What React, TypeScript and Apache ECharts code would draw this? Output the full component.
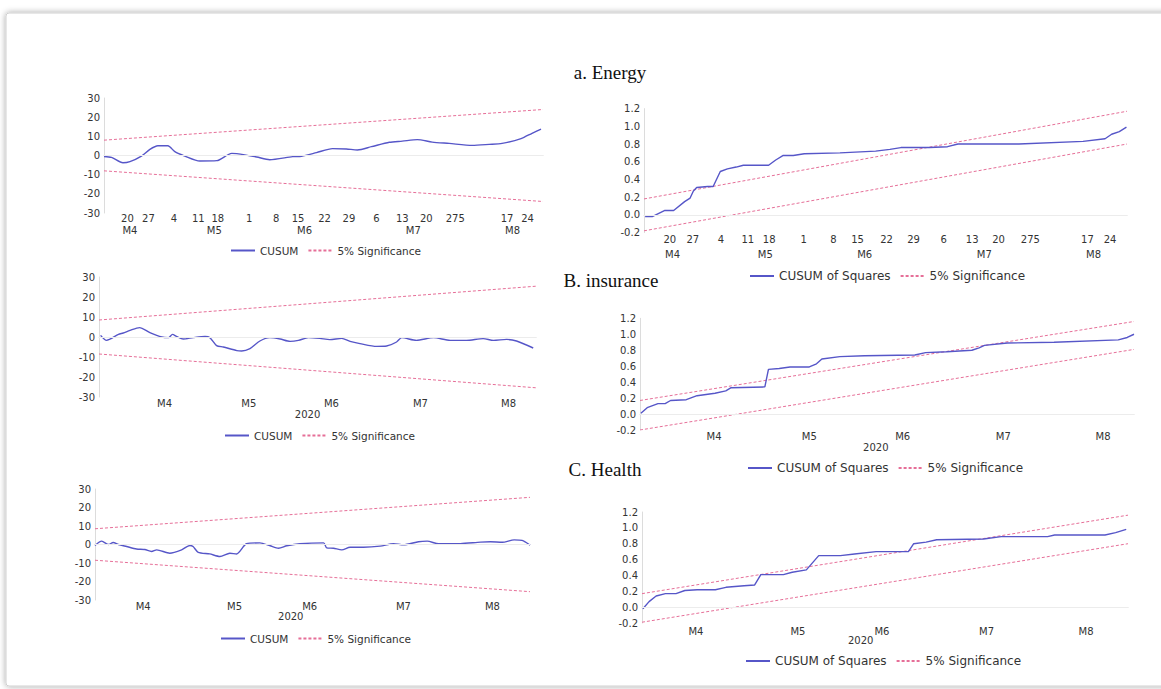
import React, { useEffect, useRef } from 'react';
import * as echarts from 'echarts';

// ---------- data ----------
const monthLabels = ['M4', 'M5', 'M6', 'M7', 'M8'];
const yearLabels = ['2020'];

// x positions are trading-day indexes
const energyDayPos = [4.7, 8.9, 14, 18.9, 22.8, 29.1, 34.5, 38.9, 44.2, 49.1, 54.6, 59.8, 64.6, 70.4, 80.8, 84.9];
const energyDayLabels = ['20', '27', '4', '11', '18', '1', '8', '15', '22', '29', '6', '13', '20', '275', '17', '24'];
const energyMonthPos = [5.2, 22.1, 40.2, 62, 81.9];
const insuranceMonthPos = [16.5, 37.7, 58.5, 80.9, 103.1];
const insuranceYearPos = [52.5];
const healthMonthPos = [12.2, 35.3, 54.3, 78, 100.5];
const healthYearPos = [49.5];

const energyCusum = [
  [0, -0.5], [1.5, -1], [3.8, -3.8], [5.2, -3.2], [7.5, -0.3], [9.2, 3.2], [10.8, 5.1], [12.8, 5.1],
  [14.2, 2], [16.2, -0.3], [19.2, -2.9], [22.6, -2.7], [25.6, 1.1], [26.6, 1], [30.6, -0.8], [33.2, -2.2],
  [37.8, -0.6], [39.6, -0.4], [42.6, 1.5], [45.8, 3.6], [48.6, 3.4], [50.8, 2.9], [53.6, 4.6], [57.2, 6.9],
  [59.8, 7.5], [62.8, 8.3], [65.8, 7], [69.2, 6.3], [73.8, 5.3], [77.2, 5.8], [79.8, 6.3], [83.6, 8.8],
  [85.8, 11.6], [87.6, 13.8],
];
const energyCusumUpper = [[0, 8], [88, 24]];
const energyCusumLower = [[0, -8], [88, -24]];

const energySq = [
  [0.2, -0.02], [1.5, -0.02], [3.8, 0.05], [5.4, 0.05], [7.4, 0.15], [8.4, 0.19], [9, 0.27], [9.6, 0.31],
  [11.6, 0.32], [12.6, 0.32], [13.9, 0.49], [15.2, 0.52], [16.8, 0.54], [18.1, 0.56], [22.7, 0.56], [24, 0.62],
  [25.3, 0.67], [27.2, 0.67], [29.2, 0.69], [35.7, 0.7], [42.2, 0.72], [44.8, 0.74], [46.8, 0.76], [52, 0.76],
  [55.3, 0.77], [57.2, 0.8], [68.3, 0.8], [80, 0.83], [84, 0.86], [85.2, 0.91], [86.6, 0.94], [87.9, 0.99],
];
const energySqUpper = [[0, 0.18], [88, 1.17]];
const energySqLower = [[0, -0.18], [88, 0.8]];

const insuranceCusum = [
  [0.4, 0.8], [1.9, -1.7], [4.9, 1.3], [6.1, 2], [7.8, 3.3], [10.2, 4.7], [12.8, 2.2], [15.8, 0],
  [17.5, -0.3], [18.5, 1.3], [19.5, 0.3], [21.2, -1], [23.7, -0.3], [26.7, 0.3], [27.9, -0.3], [29.6, -4.3],
  [31.3, -5], [34.7, -6.8], [35.9, -7], [38, -5.8], [40.5, -2], [43, -0.3], [45.6, -1], [48.1, -2.2],
  [50.2, -1.7], [52.7, -0.3], [55.6, -0.7], [58.1, -1.3], [61.1, -0.7], [63.2, -2.2], [65.7, -3.3], [69.9, -4.7],
  [72.4, -4.5], [74.9, -2.5], [76.2, -0.3], [79.9, -1.7], [84.2, -0.3], [88.4, -1.7], [92.5, -1.7], [96.7, -0.8],
  [99.3, -1.7], [102.6, -1.2], [105.1, -2], [109.3, -5.5],
];
const insuranceCusumUpper = [[0, 8.5], [110, 25.4]];
const insuranceCusumLower = [[0, -8.5], [110, -25.4]];

const insuranceSq = [
  [0.2, 0.01], [1.6, 0.08], [4, 0.13], [5.6, 0.13], [6.8, 0.17], [10.3, 0.18], [12.7, 0.23], [16.7, 0.26],
  [19.1, 0.29], [20.3, 0.33], [27.8, 0.34], [28.6, 0.56], [31, 0.57], [33.4, 0.59], [37.7, 0.59], [39.3, 0.63],
  [40.5, 0.69], [44.5, 0.72], [50, 0.73], [61.2, 0.74], [63.6, 0.77], [68.3, 0.78], [73.9, 0.8], [75.5, 0.83],
  [76.7, 0.86], [81.8, 0.89], [92.2, 0.9], [106.5, 0.93], [108.5, 0.96], [110, 1.0],
];
const insuranceSqUpper = [[0, 0.17], [110, 1.16]];
const insuranceSqLower = [[0, -0.2], [110, 0.81]];

const healthCusum = [
  [0, -0.5], [1.7, 1.8], [3.4, 0], [4.6, 1.1], [5.9, 0], [8, -1.1], [10.5, -2.4], [12.6, -2.7],
  [14.3, -3.8], [15.6, -2.9], [18.9, -4.7], [21.9, -2.9], [24, -0.5], [24.8, -1.1], [26.1, -4.2], [29, -5.1],
  [31.6, -6.5], [34.1, -4.7], [35.8, -5.1], [38.3, 0.4], [41.7, 0.9], [44.3, -0.7], [46.4, -2], [48.5, -0.7],
  [51.8, 0.4], [57.8, 0.9], [58.6, -1.8], [60.3, -2], [62.4, -2.9], [64.5, -1.5], [67.9, -1.5], [72.1, -0.9],
  [75.5, 0.4], [78, -0.2], [81.8, 1.5], [84, 1.8], [86.9, 0.4], [92.4, 0.5], [97.5, 1.3], [100, 1.5],
  [103, 1.2], [106, 2.5], [108, 2.2], [110, -0.3],
];
const healthCusumUpper = [[0, 8.5], [110, 25.5]];
const healthCusumLower = [[0, -8.5], [110, -25.5]];

const healthSq = [
  [0.2, -0.02], [1.6, 0.07], [3.2, 0.14], [5.3, 0.17], [7.7, 0.17], [9.7, 0.21], [12.5, 0.22], [16.6, 0.22],
  [19, 0.25], [23.1, 0.27], [25.5, 0.28], [26.9, 0.41], [32, 0.41], [34, 0.44], [37.2, 0.47], [40, 0.65],
  [44.9, 0.65], [48.1, 0.67], [53, 0.7], [60.3, 0.7], [61.5, 0.8], [64.3, 0.82], [66.7, 0.85], [77.3, 0.86],
  [81.3, 0.89], [91.8, 0.89], [93.4, 0.91], [104.8, 0.91], [107.2, 0.94], [109.6, 0.98],
];
const healthSqUpper = [[0, 0.17], [110, 1.16]];
const healthSqLower = [[0, -0.19], [110, 0.8]];

const titles = ['a. Energy', 'B. insurance', 'C. Health'];

// ---------- styles / layout ----------
const FONT = 'DejaVu Sans';
const lineColor = '#5656c8';
const sigColor = '#e66f98';
const axisColor = '#dcdcdc';
const textColor = '#333';

type Panel = {
  grid: { left: number; top: number; width: number; height: number };
  sq: boolean;
  xMax: number;
  main: number[][];
  upper: number[][];
  lower: number[][];
  name: string;
  row1: { pos: number[]; labels: string[]; margin: number };
  row2: { pos: number[]; labels: string[]; offset: number; margin: number };
  legend: { left: number; top: number; fontSize: number };
};

const panels: Panel[] = [
  {
    grid: { left: 104, top: 98, width: 439, height: 115 }, sq: false, xMax: 88,
    main: energyCusum, upper: energyCusumUpper, lower: energyCusumLower, name: 'CUSUM',
    row1: { pos: energyDayPos, labels: energyDayLabels, margin: 0.5 },
    row2: { pos: energyMonthPos, labels: monthLabels, offset: 12, margin: 0.5 },
    legend: { left: 225, top: 240, fontSize: 10.5 },
  },
  {
    grid: { left: 644, top: 108.6, width: 483, height: 124 }, sq: true, xMax: 88,
    main: energySq, upper: energySqUpper, lower: energySqLower, name: 'CUSUM of Squares',
    row1: { pos: energyDayPos, labels: energyDayLabels, margin: 2 },
    row2: { pos: energyMonthPos, labels: monthLabels, offset: 14.5, margin: 2 },
    legend: { left: 744, top: 265, fontSize: 12 },
  },
  {
    grid: { left: 99, top: 277, width: 437, height: 120 }, sq: false, xMax: 110,
    main: insuranceCusum, upper: insuranceCusumUpper, lower: insuranceCusumLower, name: 'CUSUM',
    row1: { pos: insuranceMonthPos, labels: monthLabels, margin: 1 },
    row2: { pos: insuranceYearPos, labels: yearLabels, offset: 11, margin: 1 },
    legend: { left: 219, top: 425, fontSize: 10.5 },
  },
  {
    grid: { left: 640, top: 318.3, width: 494, height: 111.7 }, sq: true, xMax: 110,
    main: insuranceSq, upper: insuranceSqUpper, lower: insuranceSqLower, name: 'CUSUM of Squares',
    row1: { pos: insuranceMonthPos, labels: monthLabels, margin: 1.5 },
    row2: { pos: insuranceYearPos, labels: yearLabels, offset: 10.5, margin: 1.5 },
    legend: { left: 742, top: 457, fontSize: 12 },
  },
  {
    grid: { left: 95, top: 489, width: 435, height: 111 }, sq: false, xMax: 110,
    main: healthCusum, upper: healthCusumUpper, lower: healthCusumLower, name: 'CUSUM',
    row1: { pos: healthMonthPos, labels: monthLabels, margin: 1 },
    row2: { pos: healthYearPos, labels: yearLabels, offset: 10.5, margin: 1 },
    legend: { left: 215, top: 628, fontSize: 10.5 },
  },
  {
    grid: { left: 642, top: 512, width: 486, height: 111 }, sq: true, xMax: 110,
    main: healthSq, upper: healthSqUpper, lower: healthSqLower, name: 'CUSUM of Squares',
    row1: { pos: healthMonthPos, labels: monthLabels, margin: 3 },
    row2: { pos: healthYearPos, labels: yearLabels, offset: 9.5, margin: 3 },
    legend: { left: 740, top: 650, fontSize: 12 },
  },
];

const titlePos = [
  { x: 605, y: 58 },
  { x: 606, y: 266 },
  { x: 600, y: 455 },
];

const labelAt = (pos: number[], labels: string[]) => (v: number) => {
  const i = pos.findIndex((p) => Math.abs(p - v) < 1e-6);
  return i >= 0 ? labels[i] : '';
};

function buildOption() {
  const grid: any[] = [];
  const xAxis: any[] = [];
  const yAxis: any[] = [];
  const series: any[] = [];
  const legend: any[] = [];

  panels.forEach((p, gi) => {
    grid.push({ ...p.grid, containLabel: false });
    const xi = xAxis.length;
    xAxis.push({
      type: 'value', gridIndex: gi, min: 0, max: p.xMax, position: 'bottom',
      axisLine: { show: true, lineStyle: { color: axisColor, width: 1 } },
      axisTick: { show: false },
      splitLine: { show: false },
      axisLabel: {
        customValues: p.row1.pos, formatter: labelAt(p.row1.pos, p.row1.labels),
        margin: p.row1.margin, fontSize: 10, color: textColor, fontFamily: FONT,
        showMinLabel: true, showMaxLabel: true,
      },
    });
    xAxis.push({
      type: 'value', gridIndex: gi, min: 0, max: p.xMax, position: 'bottom', offset: p.row2.offset,
      axisLine: { show: false }, axisTick: { show: false }, splitLine: { show: false },
      axisLabel: {
        customValues: p.row2.pos, formatter: labelAt(p.row2.pos, p.row2.labels),
        margin: p.row2.margin, fontSize: 10, color: textColor, fontFamily: FONT,
        showMinLabel: true, showMaxLabel: true,
      },
    });
    const yi = yAxis.length;
    yAxis.push({
      type: 'value', gridIndex: gi,
      min: p.sq ? -0.2 : -30, max: p.sq ? 1.2 : 30, interval: p.sq ? 0.2 : 10,
      axisLine: { show: true, lineStyle: { color: axisColor, width: 1 } },
      axisTick: { show: false },
      splitLine: { show: false },
      axisLabel: {
        margin: 4, fontSize: 10, color: textColor, fontFamily: FONT,
        formatter: p.sq
          ? (v: number) => (Math.abs(v) < 1e-9 ? '0.0' : v.toFixed(1))
          : (v: number) => String(Math.round(v)),
      },
    });
    series.push({
      type: 'line', name: p.name, xAxisIndex: xi, yAxisIndex: yi, data: p.main,
      symbol: 'none', smooth: p.sq ? false : 0.25, z: 3,
      lineStyle: { color: lineColor, width: 1.4 }, itemStyle: { color: lineColor },
      markLine: {
        silent: true, symbol: 'none', label: { show: false },
        lineStyle: { color: '#ececec', width: 1, type: 'solid' },
        data: [{ yAxis: 0 }],
      },
    });
    [p.upper, p.lower].forEach((b) => {
      series.push({
        type: 'line', name: '5% Significance', xAxisIndex: xi, yAxisIndex: yi, data: b,
        symbol: 'none', z: 2,
        lineStyle: { color: sigColor, width: 1, type: [3, 2] }, itemStyle: { color: sigColor },
      });
    });
    legend.push({
      data: [p.name, '5% Significance'],
      left: p.legend.left, top: p.legend.top, orient: 'horizontal',
      itemWidth: 24, itemHeight: 10, itemGap: 9,
      selectedMode: false,
      itemStyle: { opacity: 0, borderWidth: 0 },
      textStyle: { fontFamily: FONT, fontSize: p.legend.fontSize, color: textColor },
    });
  });

  const title = titles.map((t, i) => ({
    text: t, left: titlePos[i].x, top: titlePos[i].y, textAlign: 'center',
    textStyle: { fontFamily: 'Liberation Serif', fontSize: 19, fontWeight: 'normal', color: '#111' },
  }));

  return {
    animation: false,
    backgroundColor: '#ffffff',
    title,
    grid, xAxis, yAxis, series, legend,
    graphic: [
      {
        type: 'rect', silent: true, z: -10,
        shape: { x: 6, y: 13, width: 1170, height: 673, r: 3 },
        style: { fill: '#ffffff', stroke: '#d0d0d0', lineWidth: 1, shadowBlur: 6, shadowColor: 'rgba(0,0,0,0.35)' },
      },
    ],
  };
}

export default function App() {
  const ref = useRef<HTMLDivElement>(null);
  useEffect(() => {
    const chart = echarts.init(ref.current!, null, { renderer: 'svg' });
    chart.setOption(buildOption() as any);
    return () => chart.dispose();
  }, []);
  return (
    <div
      ref={ref}
      style={{ position: 'fixed', left: 0, top: 0, width: 1161, height: 689, background: '#fff' }}
    />
  );
}
